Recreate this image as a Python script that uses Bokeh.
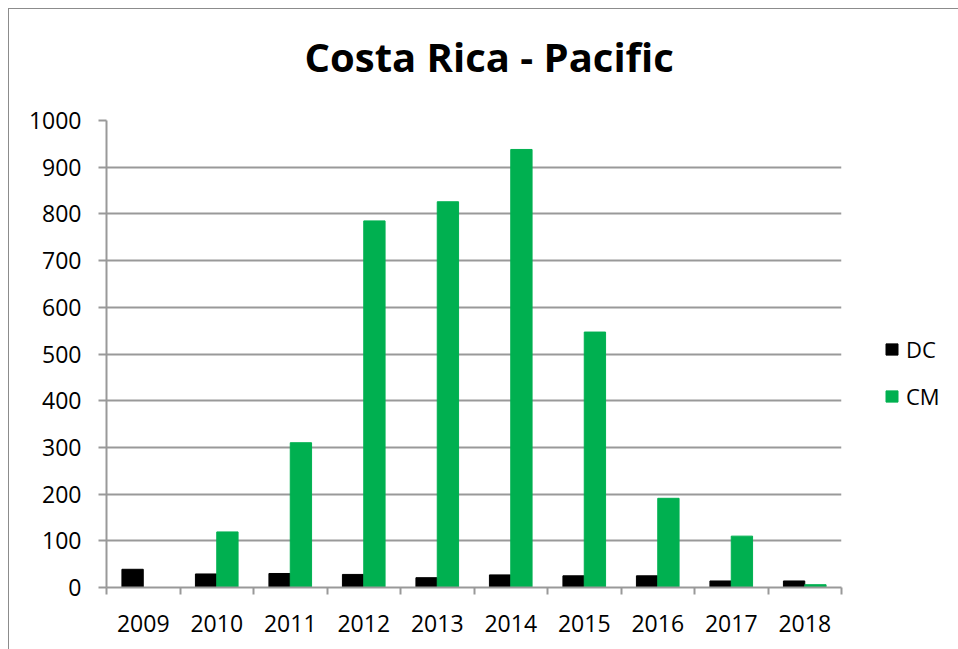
from bokeh.plotting import figure
from bokeh.models import ColumnDataSource, FixedTicker, Legend, LegendItem, Range1d, Title
from bokeh.transform import dodge
from bokeh.embed import file_html
from bokeh.resources import INLINE

years = [2009, 2010, 2011, 2012, 2013, 2014, 2015, 2016, 2017, 2018]
dc = [39, 29, 30, 28, 21, 27, 25, 25, 14, 14]
cm = [0, 119, 310, 785, 826, 938, 547, 191, 110, 6]
y_ticks = [0, 100, 200, 300, 400, 500, 600, 700, 800, 900, 1000]

FONT = "Open Sans"
GRID = "#999999"

src = ColumnDataSource(dict(year=years, dc=dc, cm=cm))

p = figure(frame_width=735, frame_height=467, output_backend="svg", toolbar_location=None,
           title=None,
           x_range=Range1d(years[0] - 0.5, years[-1] + 0.5),
           y_range=Range1d(0, 1000),
           min_border_left=97, min_border_right=0, min_border_top=111, min_border_bottom=62)

spacer = Title(text=" ", text_font=FONT, text_font_size="10px", standoff=21, text_color="white")
p.add_layout(spacer, "above")
main_title = Title(text="Costa Rica - Pacific", align="left", offset=198,
                   text_font=FONT, text_font_size="40px", text_font_style="bold",
                   text_color="black", standoff=0)
p.add_layout(main_title, "above")

w = 0.29
r_dc = p.vbar(x=dodge("year", -w / 2), top="dc", width=w, source=src, color="black")
r_cm = p.vbar(x=dodge("year", w / 2), top="cm", width=w, source=src, color="#00B050")

p.outline_line_color = None
p.xgrid.grid_line_color = None
p.ygrid.grid_line_color = GRID
p.ygrid.grid_line_width = 2
p.ygrid.ticker = FixedTicker(ticks=y_ticks)

ya = p.yaxis[0]
ya.ticker = FixedTicker(ticks=y_ticks)
ya.axis_line_color = GRID
ya.axis_line_width = 2
ya.major_tick_line_color = GRID
ya.major_tick_line_width = 2
ya.major_tick_out = 8
ya.major_tick_in = 0
ya.minor_tick_line_color = None
ya.major_label_text_font = FONT
ya.major_label_text_font_size = "23px"
ya.major_label_text_color = "black"
ya.major_label_standoff = 17

xa = p.xaxis[0]
xa.ticker = FixedTicker(ticks=years, minor_ticks=[y - 0.5 for y in years] + [years[-1] + 0.5])
xa.major_label_overrides = {y: str(y) for y in years}
xa.axis_line_color = GRID
xa.axis_line_width = 2
xa.major_tick_line_color = None
xa.major_tick_out = 0
xa.major_tick_in = 0
xa.minor_tick_line_color = GRID
xa.minor_tick_line_width = 2
xa.minor_tick_out = 7
xa.minor_tick_in = 0
xa.major_label_text_font = FONT
xa.major_label_text_font_size = "23px"
xa.major_label_text_color = "black"
xa.major_label_standoff = 20

legend = Legend(items=[LegendItem(label="DC", renderers=[r_dc]),
                       LegendItem(label="CM", renderers=[r_cm])],
                location=(43, 176), border_line_color=None, background_fill_alpha=0,
                label_text_font=FONT, label_text_font_size="22px", label_text_color="black",
                glyph_width=15, glyph_height=14, label_height=30, spacing=17, label_standoff=7,
                margin=0, padding=0)
p.add_layout(legend, "right")

p.styles = {"margin-left": "8px", "margin-top": "8px",
            "border-left": "1px solid #8c8c8c", "border-top": "1px solid #8c8c8c"}

open("out.html", "w").write(file_html(p, INLINE))
